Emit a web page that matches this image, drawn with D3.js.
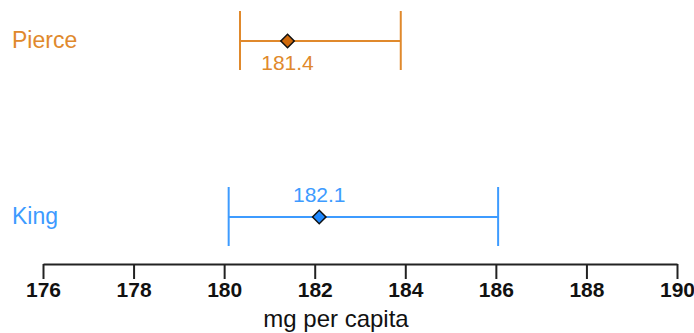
<!DOCTYPE html>
<html>
<head>
<meta charset="utf-8">
<script src="https://cdn.jsdelivr.net/npm/d3@7"></script>
<style>
  body { margin: 0; background: #fff; }
  text { font-family: "Liberation Sans", Arial, sans-serif; }
</style>
</head>
<body>
<div id="main"></div>
<script>
// counties and their estimates (mg per capita)
const counties = ['Pierce', 'King'];
const estimates = [181.4, 182.1];
const lowerBounds = [180.35, 180.1];
const upperBounds = [183.9, 186.05];

const tickValues = [176, 178, 180, 182, 184, 186, 188, 190];
const lineColors = ['#e0892c', '#3d9bff'];
const pointColors = ['#d06a0c', '#1f88ff'];
const labelPositions = ['below', 'above'];

const width = 694, height = 333;

let svg = d3.select('#main')
    .append('svg')
        .attr('width', width)
        .attr('height', height);

// x scale for mg per capita
const x = d3.scaleLinear().domain([176, 190]).range([43, 677]);

// rows for each county
const y = d3.scalePoint().domain(counties).range([41, 217]);

const rows = counties.map((c, i) => ({
    county: c,
    est: estimates[i],
    lo: lowerBounds[i],
    hi: upperBounds[i],
    line: lineColors[i],
    point: pointColors[i],
    pos: labelPositions[i]
}));

// axis
let axis = svg.append('g')
    .attr('transform', 'translate(0,264)')
    .call(d3.axisBottom(x).tickValues(tickValues).tickSize(15).tickPadding(3).tickSizeOuter(0));

axis.select('.domain').attr('stroke', '#222').attr('stroke-width', 2);
axis.selectAll('.tick line').attr('stroke', '#222').attr('stroke-width', 2);
axis.selectAll('.tick text')
    .attr('fill', '#111')
    .style('font-size', '21px')
    .style('font-weight', 'bold')
    .attr('dy', '0.71em');

// axis title sits a little left of the axis centre in the original
svg.append('text')
    .attr('x', 336)
    .attr('y', 327)
    .attr('text-anchor', 'middle')
    .attr('fill', '#111')
    .style('font-size', '24px')
    .text('mg per capita');

let g = svg.selectAll('.row')
    .data(rows)
    .enter()
    .append('g')
        .attr('class', 'row');

// horizontal interval line
g.append('line')
    .attr('x1', d => x(d.lo))
    .attr('x2', d => x(d.hi))
    .attr('y1', d => y(d.county))
    .attr('y2', d => y(d.county))
    .attr('stroke', d => d.line)
    .attr('stroke-width', 2);

// end caps
g.append('line')
    .attr('x1', d => x(d.lo))
    .attr('x2', d => x(d.lo))
    .attr('y1', d => y(d.county) - 30)
    .attr('y2', d => y(d.county) + 29)
    .attr('stroke', d => d.line)
    .attr('stroke-width', 2);

g.append('line')
    .attr('x1', d => x(d.hi))
    .attr('x2', d => x(d.hi))
    .attr('y1', d => y(d.county) - 30)
    .attr('y2', d => y(d.county) + 29)
    .attr('stroke', d => d.line)
    .attr('stroke-width', 2);

// diamond point
g.append('path')
    .attr('d', d3.symbol().type(d3.symbolSquare).size(90))
    .attr('transform', d => `translate(${x(d.est)},${y(d.county)}) rotate(45)`)
    .attr('fill', d => d.point)
    .attr('stroke', '#111')
    .attr('stroke-width', 1.5);

// value labels
g.append('text')
    .attr('x', d => x(d.est))
    .attr('y', d => d.pos === 'below' ? y(d.county) + 29 : y(d.county) - 15)
    .attr('text-anchor', 'middle')
    .attr('fill', d => d.line)
    .style('font-size', '21px')
    .text(d => d.est.toFixed(1));

// county names
g.append('text')
    .attr('x', 12)
    .attr('y', d => y(d.county))
    .attr('dy', '0.3em')
    .attr('fill', d => d.line)
    .style('font-size', '23px')
    .text(d => d.county);
</script>
</body>
</html>
